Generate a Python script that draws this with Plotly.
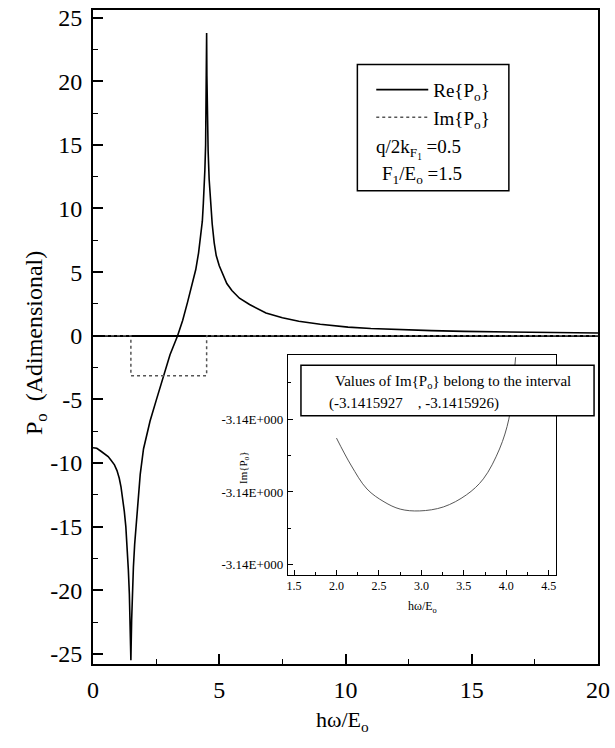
import plotly.graph_objects as go

# ---------------- data ----------------
re_x = [0, 0.15, 0.33, 0.45, 0.6, 0.7, 0.85, 0.95, 1.04, 1.11, 1.17, 1.24,
        1.3, 1.35, 1.4, 1.44, 1.47, 1.49, 1.5, 1.51, 1.53, 1.56, 1.6, 1.65,
        1.7, 1.75, 1.87, 2.0, 2.13, 2.26, 2.5, 2.79, 3.05, 3.35, 3.55, 3.74,
        3.9, 4.07, 4.18, 4.26, 4.33, 4.37, 4.41, 4.43, 4.46, 4.48, 4.49, 4.5,
        4.51, 4.53, 4.56, 4.6, 4.66, 4.72, 4.8, 4.88, 5.0, 5.1, 5.3, 5.5, 5.8,
        6.2, 6.85, 7.5, 8.15, 9.0, 10.1, 11.0, 12.1, 13.4, 14.7, 16.0, 17.4,
        18.7, 20]
re_y = [-8.8, -8.85, -9.1, -9.25, -9.5, -9.75, -10.15, -10.6, -11.2, -11.9,
        -12.7, -13.8, -15.0, -16.5, -18.4, -20.3, -22.6, -24.3, -25.5, -24.4,
        -22.4, -20.2, -18.2, -16.4, -15.0, -13.6, -10.9, -8.9, -7.7, -6.7,
        -5.1, -3.14, -1.5, 0, 1.2, 2.6, 3.8, 5.2, 6.5, 7.8, 9.0, 10.4, 11.8,
        13.0, 15.0, 17.5, 19.5, 23.8, 20.5, 17.5, 14.5, 12.3, 10.2, 8.8, 7.3,
        6.3, 5.5, 5.0, 4.1, 3.55, 2.95, 2.45, 1.78, 1.42, 1.14, 0.9, 0.68,
        0.57, 0.47, 0.4, 0.34, 0.3, 0.26, 0.23, 0.21]

im_x = [0, 1.5, 1.5, 4.5, 4.5, 20]
im_y = [0, 0, -3.1415926, -3.1415926, 0, 0]

inset_x = [2.0, 2.17, 2.36, 2.56, 2.75, 2.98, 3.26, 3.53, 3.73, 3.92, 4.03,
           4.07, 4.11]
inset_y = [-3.1415926252, -3.1415926326, -3.1415926392, -3.1415926427,
           -3.1415926447, -3.1415926452, -3.1415926441, -3.1415926408,
           -3.1415926364, -3.1415926282, -3.14159262, -3.1415926126,
           -3.141592603]

x_ticks = [0, 5, 10, 15, 20]
x_ticktext = ["0", "5", "10", "15", "20"]
y_ticks = [25, 20, 15, 10, 5, 0, -5, -10, -15, -20, -25]
y_ticktext = ["25", "20", "15", "10", "5", "0", "-5", "-10", "-15", "-20", "-25"]

inset_x_ticks = [1.5, 2.0, 2.5, 3.0, 3.5, 4.0, 4.5]
inset_x_ticktext = ["1.5", "2.0", "2.5", "3.0", "3.5", "4.0", "4.5"]
inset_y_ticks = [-3.14159262, -3.14159264, -3.14159266]
inset_y_ticktext = ["-3.14E+000", "-3.14E+000", "-3.14E+000"]
inset_y_minor = [-3.14159261, -3.14159263, -3.14159265]

SERIF = "Liberation Serif, Times New Roman, Times, serif"

fig = go.Figure()
fig.add_trace(go.Scatter(x=re_x, y=re_y, mode="lines", name="Re{P<sub>o</sub>}",
                         line=dict(color="black", width=1.6)))
fig.add_trace(go.Scatter(x=im_x, y=im_y, mode="lines", name="Im{P<sub>o</sub>}",
                         line=dict(color="#555555", width=1.5, dash="dot")))
fig.add_trace(go.Scatter(x=inset_x, y=inset_y, mode="lines", showlegend=False,
                         xaxis="x2", yaxis="y2", line_shape="spline",
                         line=dict(color="#444444", width=0.9)))

axis_common = dict(showline=True, linecolor="black", mirror=True, showgrid=False,
                   ticks="inside", tickcolor="black")

fig.update_layout(
    width=615, height=748,
    margin=dict(l=93, r=12, t=5, b=84),
    paper_bgcolor="white", plot_bgcolor="white",
    font=dict(family=SERIF, color="black", size=19),
    xaxis=dict(range=[0, 20], tickvals=x_ticks, ticktext=x_ticktext,
               linewidth=2, ticklen=10, tickwidth=1.5, zeroline=False,
               tickfont=dict(size=24, family=SERIF), ticklabelstandoff=3,
               minor=dict(dtick=2.5, tick0=0, ticklen=5, ticks="inside",
                          tickcolor="black", tickwidth=1.2),
               **axis_common),
    yaxis=dict(range=[-25.8, 25.6], tickvals=y_ticks, ticktext=y_ticktext,
               linewidth=2, ticklen=10, tickwidth=1.5,
               zeroline=True, zerolinecolor="black", zerolinewidth=2,
               tickfont=dict(size=24, family=SERIF), ticklabelstandoff=4,
               minor=dict(dtick=2.5, tick0=0, ticklen=5, ticks="inside",
                          tickcolor="black", tickwidth=1.2),
               **axis_common),
    xaxis2=dict(domain=[0.3863, 0.9176], anchor="y2", range=[1.43, 4.59],
                tickvals=inset_x_ticks, ticktext=inset_x_ticktext,
                linewidth=1.2, ticklen=5, tickwidth=1, zeroline=False,
                tickfont=dict(size=12, family=SERIF), ticklabelstandoff=0,
                minor=dict(dtick=0.25, tick0=1.5, ticklen=3, ticks="inside",
                           tickcolor="black", tickwidth=0.8),
                **axis_common),
    yaxis2=dict(domain=[0.1366, 0.4719], anchor="x2",
                range=[-3.1415926627, -3.1415926025],
                tickvals=inset_y_ticks, ticktext=inset_y_ticktext,
                linewidth=1.2, ticklen=5, tickwidth=1, zeroline=False,
                tickfont=dict(size=13, family=SERIF), ticklabelstandoff=1,
                minor=dict(tickvals=inset_y_minor, ticklen=3, ticks="inside",
                           tickcolor="black", tickwidth=0.8),
                **axis_common),
    legend=dict(x=0.551, y=0.907, xanchor="left", yanchor="top",
                bgcolor="rgba(0,0,0,0)", borderwidth=0,
                font=dict(family=SERIF, size=19), tracegroupgap=0,
                itemwidth=52),
    showlegend=True,
)

# legend frame and parameter text
fig.add_shape(type="rect", xref="paper", yref="paper",
              x0=0.5235, x1=0.8235, y0=0.7238, y1=0.9165,
              line=dict(color="black", width=1.5), fillcolor="rgba(0,0,0,0)")
fig.add_annotation(xref="paper", yref="paper", x=0.556, y=0.788,
                   xanchor="left", yanchor="middle", showarrow=False,
                   text="q/2k<sub>F<sub>1</sub></sub> =0.5",
                   font=dict(family=SERIF, size=19))
fig.add_annotation(xref="paper", yref="paper", x=0.569, y=0.747,
                   xanchor="left", yanchor="middle", showarrow=False,
                   text="F<sub>1</sub>/E<sub>o</sub> =1.5",
                   font=dict(family=SERIF, size=19))

# inset annotation box
fig.add_shape(type="rect", xref="paper", yref="paper",
              x0=0.4118, x1=0.9922, y0=0.3794, y1=0.4568,
              line=dict(color="black", width=1.5), fillcolor="white")
fig.add_annotation(xref="paper", yref="paper", x=0.4745, y=0.431,
                   xanchor="left", yanchor="middle", showarrow=False,
                   text="Values of Im{P<sub>o</sub>} belong to the interval",
                   font=dict(family=SERIF, size=15))
fig.add_annotation(xref="paper", yref="paper", x=0.4627, y=0.398,
                   xanchor="left", yanchor="middle", showarrow=False,
                   text="(-3.1415927\u00a0\u00a0\u00a0 , -3.1415926)",
                   font=dict(family=SERIF, size=15))

# axis titles
fig.add_annotation(xref="paper", yref="paper", x=(35 - 93) / 510, y=0.49,
                   xanchor="center", yanchor="middle", showarrow=False,
                   textangle=-90, text="P<sub>o</sub>  (Adimensional)",
                   font=dict(family=SERIF, size=24))
fig.add_annotation(xref="paper", yref="paper", x=(345 - 93) / 510,
                   y=(664 - 721) / 659, xanchor="center", yanchor="middle",
                   showarrow=False, text="hω/E<sub>o</sub>",
                   font=dict(family=SERIF, size=22))
# inset axis titles
fig.add_annotation(xref="paper", yref="paper", x=(245 - 93) / 510,
                   y=(664 - 466) / 659, xanchor="center", yanchor="middle",
                   showarrow=False, textangle=-90, text="Im{P<sub>o</sub>}",
                   font=dict(family=SERIF, size=11))
fig.add_annotation(xref="paper", yref="paper", x=(426 - 93) / 510,
                   y=(664 - 607) / 659, xanchor="center", yanchor="middle",
                   showarrow=False, text="hω/E<sub>o</sub>",
                   font=dict(family=SERIF, size=12))

fig.write_html("out.html", config={"displayModeBar": False},
               post_script="document.body.style.margin='0px';")
